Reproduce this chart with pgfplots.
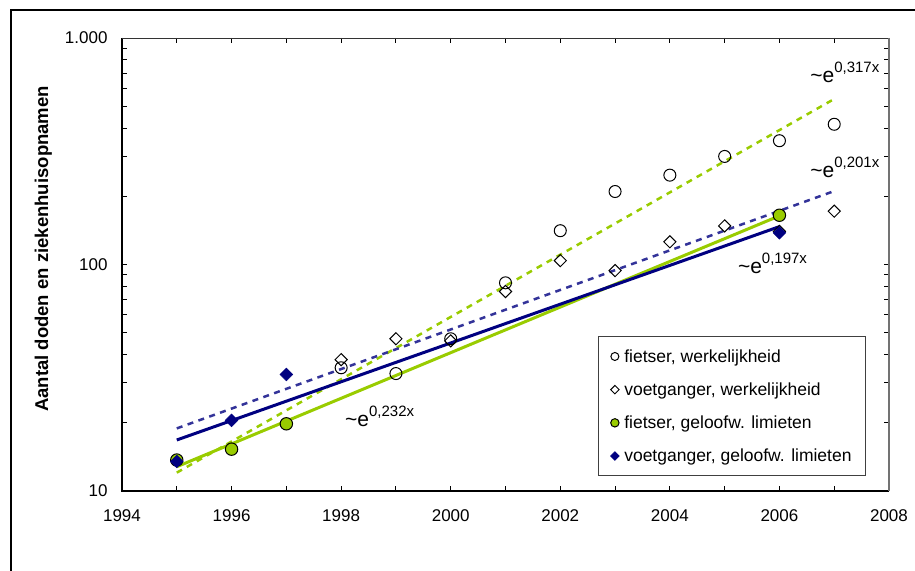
\documentclass[border=0pt]{standalone}
\usepackage{fontspec}
\setmainfont{Liberation Sans}
\usepackage{pgfplots}
\pgfplotsset{compat=1.18}

\definecolor{fitgreen}{HTML}{99CC00}
\definecolor{navyblue}{HTML}{000080}
\definecolor{dashblue}{HTML}{333399}

% single legend marker of a given size
\pgfplotsset{
  legmark/.style={legend image code/.code={\draw[##1, mark size=#1] plot coordinates {(0pt,0pt)};}},
}

\begin{document}
\begin{tikzpicture}[x=1pt,y=1pt]
% page area and outer frame
\path[use as bounding box] (0,0) rectangle (915,570);
\draw[line width=2.5pt] (11,-10) -- (11,560) -- (925,560);

\begin{axis}[
  at={(122pt,79pt)}, anchor=south west,
  scale only axis, width=767pt, height=453pt,
  xmin=1994, xmax=2008,
  ymode=log, log basis y=10, ymin=10, ymax=1000,
  xtick={1994,1995,...,2008},
  xticklabels={1994,,1996,,1998,,2000,,2002,,2004,,2006,,2008},
  ytick={10,100,1000}, yticklabels={10,100,1.000},
  minor ytick={20,30,40,50,60,70,80,90,200,300,400,500,600,700,800,900},
  tick align=inside,
  major tick length=5.5pt, minor tick length=5.5pt,
  tick style={black, line width=0.9pt},
  axis line style={draw=none},
  ticklabel style={font=\fontsize{17}{20}\selectfont},
  xticklabel style={yshift=-15pt},
  yticklabel style={xshift=-11pt},
  clip=false,
  legend cell align=left,
  legend style={
    at={(0.970,0.0331)}, anchor=south east,
    draw=black!75, line width=0.8pt,
    font=\fontsize{17.5}{20}\selectfont,
    inner xsep=12pt, inner ysep=10.5pt,
    row sep=15pt, column sep=3pt,
    nodes={inner sep=2pt, text depth=0.15em},
  },
]
% axis frame
\draw[black, line width=1.6pt] (rel axis cs:0,1) -- (rel axis cs:0,0) -- (rel axis cs:1,0);
\draw[black!80, line width=0.8pt] (rel axis cs:0,1) -- (rel axis cs:1,1);
\draw[black!55, line width=1.4pt] (rel axis cs:1,0) -- (rel axis cs:1,1);

% exponential trend lines
\addplot[fitgreen, line width=2.5pt, dash pattern=on 6pt off 5.5pt, forget plot]
  coordinates {(1995,12.05) (2007,538)};
\addplot[dashblue, line width=2.5pt, dash pattern=on 6pt off 5.5pt, forget plot]
  coordinates {(1995,18.9) (2007,211)};
\addplot[fitgreen, line width=3pt, forget plot]
  coordinates {(1995,12.8) (2006,164)};
\addplot[navyblue, line width=3pt, forget plot]
  coordinates {(1995,16.8) (2006,147)};

% fietser, werkelijkheid
\addplot[only marks, mark=o, mark size=6pt, black, line width=1pt, legmark=4pt]
  coordinates {(1998,35) (1999,33) (2000,47) (2001,83) (2002,141)
               (2003,210) (2004,248) (2005,300) (2006,352) (2007,416)};
\addlegendentry{fietser, werkelijkheid}

% voetganger, werkelijkheid
\addplot[only marks, mark=square, mark size=4.3pt, mark options={rotate=45, fill=white}, black, line width=1pt, legmark=3pt]
  coordinates {(1998,38) (1999,47) (2000,46) (2001,76) (2002,104)
               (2003,94) (2004,126) (2005,148) (2006,140) (2007,172)};
\addlegendentry{voetganger, werkelijkheid}

% fietser, geloofwaardigheidslimieten
\addplot[only marks, mark=*, mark size=6.2pt, mark options={fill=fitgreen, draw=black}, line width=1pt, legmark=4.2pt]
  coordinates {(1995,13.7) (1996,15.3) (1997,19.8) (2006,165)};
\addlegendentry{fietser, geloofw. limieten}

% voetganger, geloofwaardigheidslimieten
\addplot[only marks, mark=square*, mark size=4.5pt, mark options={rotate=45, fill=navyblue, draw=navyblue}, line width=0.5pt, legmark=3.1pt]
  coordinates {(1995,13.5) (1996,20.5) (1997,32.7) (2006,138)};
\addlegendentry{voetganger, geloofw. limieten}

% growth rates of the trend lines
\node[anchor=base west, inner sep=0pt] at (axis cs:2006.56,639)
  {\fontsize{21}{24}\selectfont\textasciitilde e\raisebox{10pt}{\fontsize{15}{18}\selectfont 0,317x}};
\node[anchor=base west, inner sep=0pt] at (axis cs:2006.56,241)
  {\fontsize{21}{24}\selectfont\textasciitilde e\raisebox{10pt}{\fontsize{15}{18}\selectfont 0,201x}};
\node[anchor=base west, inner sep=0pt] at (axis cs:2005.24,91.7)
  {\fontsize{21}{24}\selectfont\textasciitilde e\raisebox{10pt}{\fontsize{15}{18}\selectfont 0,197x}};
\node[anchor=base west, inner sep=0pt] at (axis cs:1998.07,19.2)
  {\fontsize{21}{24}\selectfont\textasciitilde e\raisebox{10pt}{\fontsize{15}{18}\selectfont 0,232x}};
\end{axis}

% vertical axis title
\node[rotate=90, anchor=base, font=\bfseries\fontsize{18.5}{22}\selectfont] at (48,321)
  {Aantal doden en ziekenhuisopnamen};
\end{tikzpicture}
\end{document}
